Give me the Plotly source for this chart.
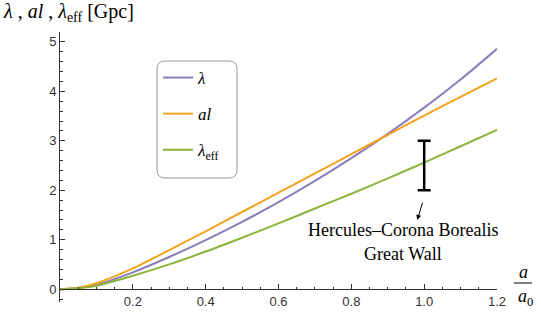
import plotly.graph_objects as go

# ---- data ----
a_vals = [0, 0.05, 0.1, 0.2, 0.3, 0.4, 0.5, 0.6, 0.7, 0.8, 0.9, 1.0, 1.1, 1.2]
lam = [0, 0.025, 0.09, 0.34, 0.65, 0.99, 1.36, 1.76, 2.19, 2.65, 3.14, 3.67, 4.24, 4.86]
al = [0, 0.03, 0.12, 0.42, 0.79, 1.17, 1.56, 1.95, 2.34, 2.73, 3.12, 3.51, 3.89, 4.26]
lam_eff = [0, 0.02, 0.07, 0.27, 0.50, 0.76, 1.04, 1.33, 1.63, 1.93, 2.24, 2.56, 2.89, 3.22]
names = ["<i>λ</i>", "<i>al</i>", "<i>λ</i><sub>eff</sub>"]
colors = ["#8a7dbd", "#f5a21f", "#8db33a"]

wall_a = [1.0]
wall_mid = [2.5]
wall_err = [0.5]

W, H = 541, 313
L, R, T, B = 60, 44, 32, 11
pw, ph = W - L - R, H - T - B
ymin, ymax = -0.26, 5.2


def px(x):
    return (x - L) / pw


def py(y):
    return (H - B - y) / ph


fig = go.Figure()
for ys, nm, c, g in zip([lam, al, lam_eff], names, colors, ["g1", "g2", "g3"]):
    fig.add_trace(go.Scatter(x=a_vals, y=ys, mode="lines", name=nm, legendgroup=g,
                             line=dict(color=c, width=2, shape="spline", smoothing=0.8)))

fig.add_trace(go.Scatter(x=wall_a, y=wall_mid, mode="markers", showlegend=False,
                         marker=dict(size=0.1, color="black"),
                         error_y=dict(type="data", array=wall_err, color="black",
                                      thickness=2.5, width=6.5)))

serif = "Liberation Serif"


def txt(text, x, y, size, xanchor="center"):
    return dict(text=text, x=px(x), y=py(y), xref="paper", yref="paper", xanchor=xanchor,
                yanchor="middle", showarrow=False, borderpad=0,
                font=dict(family=serif, size=size, color="black"))


ann = [
    txt("<i>λ</i> , <i>al</i> , <i>λ</i><sub>eff</sub> [Gpc]", 2, 13, 20, "left"),
    txt("<i>a</i>", 523, 272, 18),
    txt("<i>a</i><sub>0</sub>", 525, 297, 18),
    txt("Hercules–Corona Borealis", 403, 230, 18),
    txt("Great Wall", 403, 254, 18),
    dict(text="", x=0.981, y=1.40, ax=0.997, ay=1.78, xref="x", yref="y",
         axref="x", ayref="y", showarrow=True, arrowhead=2, arrowsize=1,
         arrowwidth=1, arrowcolor="black"),
]

shapes = []
# fraction bar
shapes.append(dict(type="line", xref="paper", yref="paper", x0=px(514), x1=px(532),
                   y0=py(283), y1=py(283), line=dict(color="black", width=1)))
# rounded legend frame
x0, x1, y0, y1, r = 157, 237, 61, 178, 8
path = (f"M {px(x0+r)} {py(y0)} L {px(x1-r)} {py(y0)} Q {px(x1)} {py(y0)} {px(x1)} {py(y0+r)} "
        f"L {px(x1)} {py(y1-r)} Q {px(x1)} {py(y1)} {px(x1-r)} {py(y1)} "
        f"L {px(x0+r)} {py(y1)} Q {px(x0)} {py(y1)} {px(x0)} {py(y1-r)} "
        f"L {px(x0)} {py(y0+r)} Q {px(x0)} {py(y0)} {px(x0+r)} {py(y0)} Z")
shapes.append(dict(type="path", xref="paper", yref="paper", path=path,
                   line=dict(color="#9a9a9a", width=1), fillcolor="rgba(255,255,255,0)"))

tickfont = dict(family="Liberation Sans", size=13, color="#333333")
fig.update_layout(
    template="none",
    width=W, height=H, margin=dict(l=L, r=R, t=T, b=B, autoexpand=False),
    plot_bgcolor="white", paper_bgcolor="white",
    showlegend=True,
    legend=dict(x=px(158), y=py(60), xanchor="left", yanchor="top", bgcolor="rgba(0,0,0,0)",
                font=dict(family=serif, size=17, color="black"), tracegroupgap=11,
                itemwidth=30),
    annotations=ann, shapes=shapes,
    xaxis=dict(range=[0, 1.2], anchor="free", position=(0 - ymin) / (ymax - ymin),
               automargin=False,
               showgrid=False, zeroline=False, showline=True, linecolor="#333", linewidth=1,
               ticks="inside", ticklen=5, tickcolor="#333", dtick=0.2, tick0=0,
               tickformat=".1f", labelalias={"0.0": ""}, tickfont=tickfont,
               minor=dict(dtick=0.05, tick0=0, ticks="inside", ticklen=2.5, tickcolor="#333",
                          showgrid=False)),
    yaxis=dict(range=[ymin, ymax], automargin=False, showgrid=False, zeroline=False,
               showline=True,
               linecolor="#333", linewidth=1, ticks="inside", ticklen=5, tickcolor="#333",
               dtick=1, tick0=0, tickformat="d", tickfont=tickfont,
               minor=dict(dtick=0.2, tick0=0, ticks="inside", ticklen=2.5, tickcolor="#333",
                          showgrid=False)),
)

fig.write_html("out.html", config={"displayModeBar": False},
               post_script="document.body.style.margin='0';document.body.style.overflow='hidden';")
